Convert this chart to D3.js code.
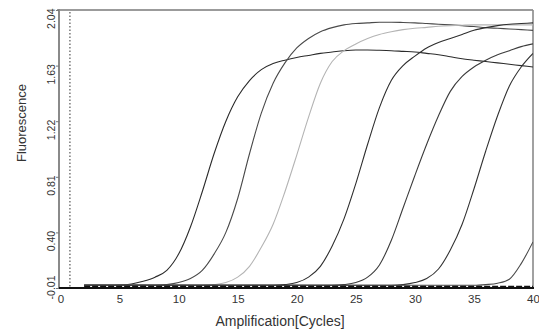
<!DOCTYPE html>
<html>
<head>
<meta charset="utf-8">
<script src="https://cdn.jsdelivr.net/npm/d3@7/dist/d3.min.js"></script>
<style>
html,body{margin:0;padding:0;background:#fff;}
svg{display:block;font-family:"Liberation Sans",Arial,sans-serif;}
</style>
</head>
<body>
<svg id="chart" width="539" height="332"></svg>
<script>
const cycles = [2,3,4,5,6,7,8,9,10,11,12,13,14,15,16,17,18,19,20,21,22,23,24,25,26,27,28,29,30,31,32,33,34,35,36,37,38,39,40];

const curve1 = [0.01,0.01,0.01,0.012,0.02,0.04,0.07,0.12,0.24,0.44,0.70,0.98,1.22,1.40,1.52,1.60,1.645,1.67,1.69,1.705,1.72,1.73,1.74,1.745,1.745,1.743,1.74,1.735,1.73,1.72,1.71,1.695,1.68,1.67,1.66,1.65,1.64,1.63,1.62];
const curve2 = [0.01,0.01,0.01,0.01,0.01,0.01,0.01,0.015,0.03,0.06,0.12,0.24,0.40,0.65,0.98,1.28,1.50,1.65,1.76,1.83,1.88,1.91,1.93,1.94,1.945,1.95,1.95,1.948,1.945,1.94,1.935,1.93,1.925,1.918,1.91,1.905,1.90,1.895,1.89];
const curve3 = [0.01,0.01,0.01,0.01,0.01,0.01,0.01,0.01,0.01,0.01,0.01,0.015,0.03,0.07,0.15,0.29,0.46,0.70,0.97,1.25,1.50,1.66,1.74,1.79,1.83,1.86,1.88,1.895,1.905,1.912,1.92,1.925,1.928,1.93,1.93,1.93,1.93,1.93,1.93];
const curve4 = [0.01,0.01,0.01,0.01,0.01,0.01,0.01,0.01,0.01,0.01,0.01,0.01,0.01,0.01,0.01,0.01,0.01,0.015,0.03,0.07,0.15,0.30,0.50,0.76,1.05,1.32,1.52,1.63,1.70,1.76,1.80,1.83,1.86,1.89,1.91,1.925,1.935,1.94,1.945];
const curve5 = [0.01,0.01,0.01,0.01,0.01,0.01,0.01,0.01,0.01,0.01,0.01,0.01,0.01,0.01,0.01,0.01,0.01,0.01,0.01,0.01,0.01,0.01,0.015,0.03,0.07,0.16,0.34,0.58,0.82,1.05,1.26,1.44,1.55,1.62,1.67,1.71,1.74,1.77,1.79];
const curve6 = [0.01,0.01,0.01,0.01,0.01,0.01,0.01,0.01,0.01,0.01,0.01,0.01,0.01,0.01,0.01,0.01,0.01,0.01,0.01,0.01,0.01,0.01,0.01,0.01,0.01,0.01,0.01,0.015,0.03,0.06,0.13,0.27,0.46,0.72,1.00,1.26,1.48,1.62,1.72];
const curve7 = [0.01,0.01,0.01,0.01,0.01,0.01,0.01,0.01,0.01,0.01,0.01,0.01,0.01,0.01,0.01,0.01,0.01,0.01,0.01,0.01,0.01,0.01,0.01,0.01,0.01,0.01,0.01,0.01,0.01,0.01,0.01,0.01,0.01,0.01,0.015,0.025,0.055,0.17,0.33];
const negative = [0.0,0.0,0.0,0.0,0.0,0.0,0.0,0.0,0.0,0.0,0.0,0.0,0.0,0.0,0.0,0.0,0.0,0.0,0.0,0.0,0.0,0.0,0.0,0.0,0.0,0.0,0.0,0.0,0.0,0.0,0.0,0.0,0.0,0.0,0.0,0.0,0.0,0.0,0.0];

const seriesNames = ["curve1","curve2","curve3","curve4","curve5","curve6","curve7","negative"];
const seriesValues = [curve1,curve2,curve3,curve4,curve5,curve6,curve7,negative];
const seriesColors = ["#2b2b2b","#4a4a4a","#b4b4b4","#2e2e2e","#3c3c3c","#333333","#4a4a4a","#111111"];

const xTicks = [0,5,10,15,20,25,30,35,40];
const yTicks = [-0.01,0.40,0.81,1.22,1.63,2.04];
const yTickLabels = ["-0.01","0.40","0.81","1.22","1.63","2.04"];
const thresholdCycle = 0.8;

const svg = d3.select("#chart");
const x = d3.scaleLinear().domain([0,40]).range([60.5,533]);
const y = d3.scaleLinear().domain([-0.01,2.04]).range([288,10]);

// frame
svg.append("line").attr("x1",57).attr("x2",533).attr("y1",10).attr("y2",10)
  .attr("stroke","#7a7a7a").attr("stroke-width",1.6);
svg.append("line").attr("x1",533).attr("x2",533).attr("y1",10).attr("y2",288)
  .attr("stroke","#8a8a8a").attr("stroke-width",1.6);
svg.append("line").attr("x1",59).attr("x2",59).attr("y1",9).attr("y2",289)
  .attr("stroke","#8a8a8a").attr("stroke-width",2);

// threshold dotted line
svg.append("line").attr("x1",x(thresholdCycle)).attr("x2",x(thresholdCycle))
  .attr("y1",12).attr("y2",288).attr("stroke","#333").attr("stroke-width",1)
  .attr("stroke-dasharray","1.5,2");

// y axis ticks
const yAxis = d3.axisLeft(y).tickValues(yTicks).tickSize(3).tickFormat((d,i)=>yTickLabels[i]);
const gy = svg.append("g").attr("transform","translate(59,0)").call(yAxis);
gy.select(".domain").remove();
gy.selectAll(".tick line").attr("stroke","#777");
gy.selectAll(".tick text")
  .attr("x",0).attr("dy",0)
  .attr("transform",(d,i)=>`translate(-4,${-y(d)}) rotate(-90) translate(${-y(d)+(i===0?13:2)},0)`)
  .attr("text-anchor","end")
  .attr("font-size",10.5).attr("fill","#333")
  .attr("font-family","'Liberation Sans',Arial,sans-serif");

// x axis
const xAxis = d3.axisBottom(x).tickValues(xTicks).tickSize(0).tickFormat(d3.format("d"));
const gx = svg.append("g").attr("transform","translate(0,288)").call(xAxis);
gx.select(".domain").remove();
gx.selectAll(".tick text").attr("y",0).attr("dy","14.5").attr("font-size",11.5).attr("fill","#333")
  .attr("font-family","'Liberation Sans',Arial,sans-serif");

// curves
const line = d3.line().x((d,i)=>x(cycles[i])).y(d=>y(d)).curve(d3.curveMonotoneX);
const clip = svg.append("clipPath").attr("id","clip").append("rect")
  .attr("x",x(0)).attr("y",y(2.04)).attr("width",x(40)-x(0)).attr("height",y(-0.01)-y(2.04)+2);
const g = svg.append("g").attr("clip-path","url(#clip)");
seriesValues.forEach((vals,k)=>{
  g.append("path").datum(vals).attr("d",line)
    .attr("fill","none").attr("stroke",seriesColors[k])
    .attr("stroke-width", k===7 ? 1.6 : 1.1)
    .attr("stroke-dasharray", k===7 ? "6,2" : null);
});

// bottom axis line
svg.append("line").attr("x1",59).attr("x2",534).attr("y1",288).attr("y2",288)
  .attr("stroke","#111").attr("stroke-width",2);

// axis titles
svg.append("text").attr("x",280).attr("y",326).attr("text-anchor","middle")
  .attr("font-size",14).attr("fill","#333").text("Amplification[Cycles]");
svg.append("text").attr("transform","translate(26,123) rotate(-90)").attr("text-anchor","middle")
  .attr("font-size",13).attr("fill","#333").text("Fluorescence");
</script>
</body>
</html>
